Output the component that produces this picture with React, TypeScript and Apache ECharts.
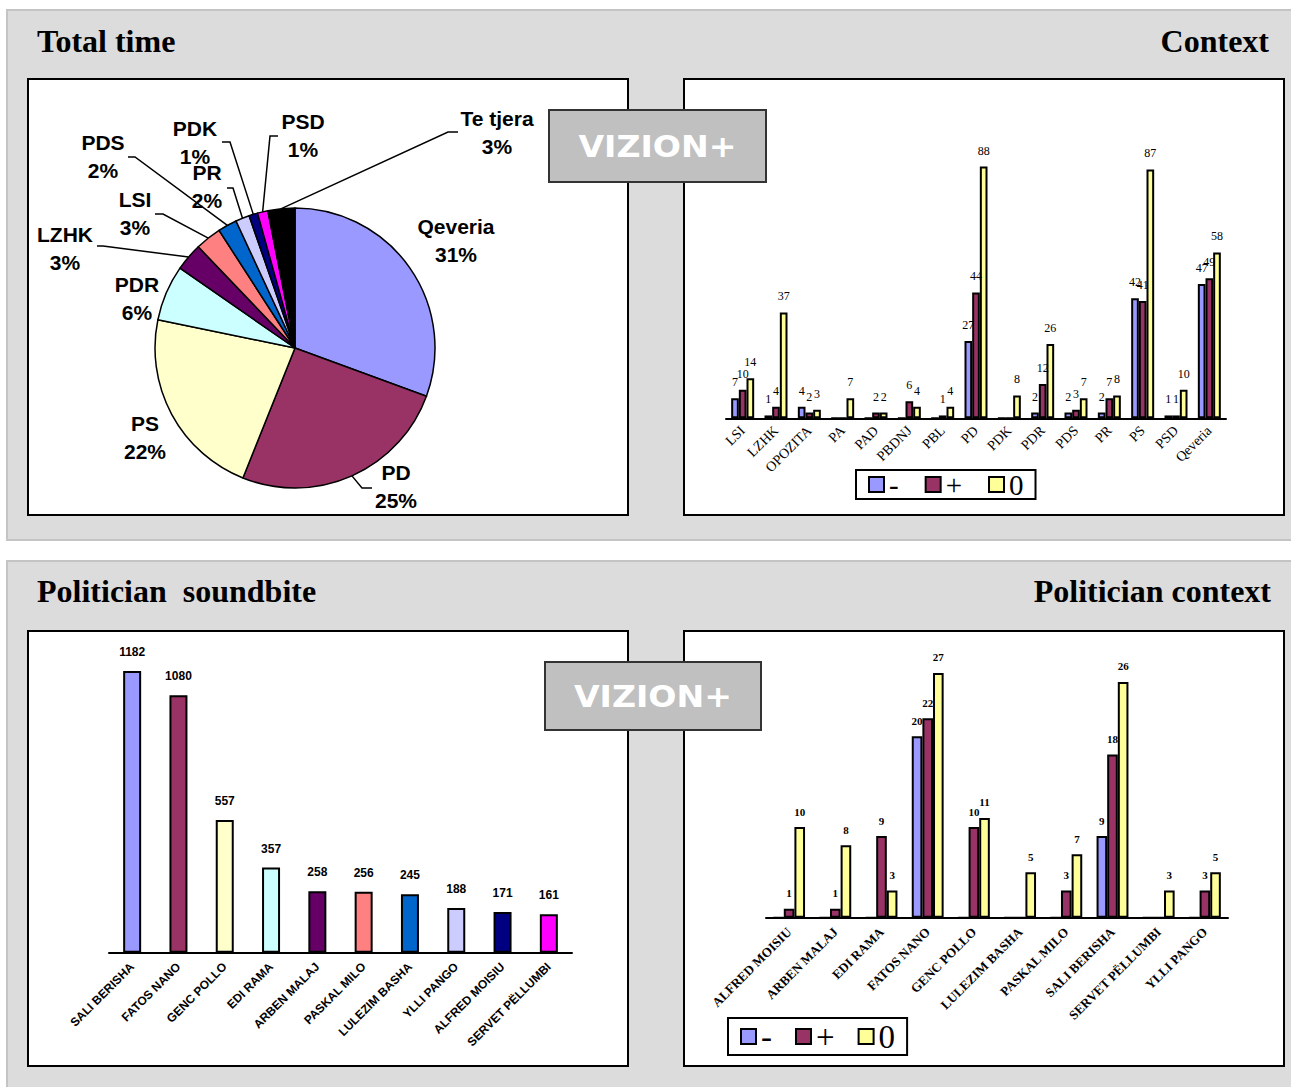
import React, { useEffect, useRef } from 'react';
import * as echarts from 'echarts';

// ---------- data ----------
const pieNames = ['Qeveria', 'PD', 'PS', 'PDR', 'LZHK', 'LSI', 'PDS', 'PR', 'PDK', 'PSD', 'Te tjera'];
const pieValues = [30.5, 25.4, 22.1, 6.4, 3.2, 3.0, 2.2, 1.6, 1.0, 1.2, 3.1];
const pieColors = ['#9999FF', '#993366', '#FFFFCC', '#CCFFFF', '#660066', '#FF8080', '#0066CC', '#CCCCFF', '#000080', '#FF00FF', '#000000'];

const contextCats = ['LSI', 'LZHK', 'OPOZITA', 'PA', 'PAD', 'PBDNJ', 'PBL', 'PD', 'PDK', 'PDR', 'PDS', 'PR', 'PS', 'PSD', 'Qeveria'];
const contextNeg = [7, 1, 4, 0, 0, 0, 0, 27, 0, 2, 2, 2, 42, 1, 47];
const contextPos = [10, 4, 2, 0, 2, 6, 1, 44, 0, 12, 3, 7, 41, 1, 49];
const contextZero = [14, 37, 3, 7, 2, 4, 4, 88, 8, 26, 7, 8, 87, 10, 58];

const soundCats = ['SALI BERISHA', 'FATOS NANO', 'GENC POLLO', 'EDI RAMA', 'ARBEN MALAJ', 'PASKAL MILO', 'LULEZIM BASHA', 'YLLI PANGO', 'ALFRED MOISIU', 'SERVET PËLLUMBI'];
const soundValues = [1182, 1080, 557, 357, 258, 256, 245, 188, 171, 161];
const soundColors = ['#9999FF', '#993366', '#FFFFCC', '#CCFFFF', '#660066', '#FF8080', '#0066CC', '#CCCCFF', '#000080', '#FF00FF'];

const polCats = ['ALFRED MOISIU', 'ARBEN MALAJ', 'EDI RAMA', 'FATOS NANO', 'GENC POLLO', 'LULEZIM BASHA', 'PASKAL MILO', 'SALI BERISHA', 'SERVET PËLLUMBI', 'YLLI PANGO'];
const polNeg = [0, 0, 0, 20, 0, 0, 0, 9, 0, 0];
const polPos = [1, 1, 9, 22, 10, 0, 3, 18, 0, 3];
const polZero = [10, 8, 3, 27, 11, 5, 7, 26, 3, 5];

const legendNames = ['-', '+', '0'];
const seriesColors = ['#9999FF', '#993366', '#FFFF99'];

// ---------- layout ----------
const pieCenter = [295, 348];
const pieRadius = 140;
const pieLabelAt = [[456, 240], [396, 486], [145, 437], [137, 298], [65, 248], [135, 213], [103, 156], [207, 186], [195, 142], [303, 135], [497, 132]];
const pieLeader: (number[][] | null)[] = [
  null,
  [[362, 488], [372, 488]],
  null,
  null,
  [[103, 246], [97, 246]],
  [[163, 214], [155, 214]],
  [[135, 157], [128, 157]],
  [[233, 188], [227, 188]],
  [[230, 142], [222, 142]],
  [[270, 136], [278, 136]],
  [[448, 132], [458, 132]],
];

const SERIF = '"Liberation Serif", "Times New Roman", serif';
const SANS = '"Liberation Sans", Arial, sans-serif';

const pieTotal = pieValues.reduce((a, b) => a + b, 0);
function pieEdge(i: number) {
  let cum = 0;
  for (let k = 0; k < i; k++) cum += pieValues[k];
  const mid = ((cum + pieValues[i] / 2) / pieTotal) * 2 * Math.PI;
  return [pieCenter[0] + pieRadius * Math.sin(mid), pieCenter[1] - pieRadius * Math.cos(mid)];
}

function barSeries(name: string, data: number[], color: string, axis: number, bold: boolean, fontSize: number, dist: number) {
  return {
    type: 'bar',
    name,
    xAxisIndex: axis,
    yAxisIndex: axis,
    data,
    barGap: '0%',
    barCategoryGap: '31%',
    itemStyle: { color, borderColor: '#000', borderWidth: 2 },
    label: {
      show: true,
      position: 'top',
      distance: dist,
      formatter: (p: any) => (p.value ? String(p.value) : ''),
      fontFamily: SERIF,
      fontSize,
      fontWeight: bold ? 'bold' : 'normal',
      color: '#000',
      textBorderWidth: 0,
    },
  };
}

function panel(y: number) {
  return {
    type: 'rect',
    z: -10,
    shape: { x: 7, y, width: 1292, height: 530 },
    style: { fill: '#DCDCDC', stroke: '#C4C4C4', lineWidth: 2 },
  };
}
function box(x: number, y: number, w: number, h: number) {
  return {
    type: 'rect',
    z: -5,
    shape: { x, y, width: w, height: h },
    style: { fill: '#FFFFFF', stroke: '#000', lineWidth: 2 },
  };
}
function title(text: string, x: number, y: number, align: string) {
  return {
    type: 'text',
    z: 1,
    style: { text, x, y, align, verticalAlign: 'middle', fill: '#000', font: `bold 32px ${SERIF}` },
  };
}
function vizion(x: number, y: number, w: number, h: number) {
  return {
    type: 'group',
    z: 100,
    children: [
      { type: 'rect', z: 100, shape: { x, y, width: w, height: h }, style: { fill: '#C0C0C0', stroke: '#333', lineWidth: 2 } },
      {
        type: 'text',
        z: 101,
        x: x + w / 2,
        y: y + h / 2,
        scaleX: 1.07,
        style: { text: 'VIZION+', x: 0, y: 0, align: 'center', verticalAlign: 'middle', fill: '#FFFFFF', font: 'bold 31px "DejaVu Sans", Verdana, sans-serif' },
      },
    ],
  };
}

function legend(left: number, top: number, fontSize: number, gap: number, pad: number[]) {
  return {
    data: legendNames,
    left,
    top,
    orient: 'horizontal',
    itemWidth: 15,
    itemHeight: 15,
    itemGap: gap,
    padding: pad,
    selectedMode: false,
    backgroundColor: '#FFFFFF',
    borderColor: '#000',
    borderWidth: 2,
    icon: 'rect',
    itemStyle: { borderColor: '#000', borderWidth: 2 },
    textStyle: { fontFamily: SERIF, fontSize, color: '#000' },
  };
}

export default function App() {
  const ref = useRef<HTMLDivElement>(null);
  useEffect(() => {
    document.body.style.margin = '0';
    const chart = echarts.init(ref.current!, undefined, { renderer: 'svg' });
    const axisLineStyle = { color: '#000', width: 2 };
    const option: any = {
      animation: false,
      backgroundColor: '#FFFFFF',
      grid: [
        { left: 726, top: 132.3, width: 500, height: 286 },
        { left: 109, top: 666.7, width: 463, height: 286 },
        { left: 766, top: 645.7, width: 462, height: 272 },
      ],
      xAxis: [
        {
          gridIndex: 0, type: 'category', data: contextCats,
          axisLine: { lineStyle: axisLineStyle }, axisTick: { length: 5, lineStyle: axisLineStyle },
          axisLabel: { rotate: 45, interval: 0, margin: 10, fontFamily: SERIF, fontSize: 14, color: '#000' },
        },
        {
          gridIndex: 1, type: 'category', data: soundCats,
          axisLine: { lineStyle: axisLineStyle }, axisTick: { length: 5, lineStyle: axisLineStyle },
          axisLabel: { rotate: 45, interval: 0, margin: 12, fontFamily: SANS, fontWeight: 'bold', fontSize: 12, color: '#000' },
        },
        {
          gridIndex: 2, type: 'category', data: polCats,
          axisLine: { lineStyle: axisLineStyle }, axisTick: { length: 5, lineStyle: axisLineStyle },
          axisLabel: { rotate: 45, interval: 0, margin: 12, fontFamily: SERIF, fontWeight: 'bold', fontSize: 13, color: '#000' },
        },
      ],
      yAxis: [
        { gridIndex: 0, type: 'value', min: 0, max: 100, show: false },
        { gridIndex: 1, type: 'value', min: 0, max: 1200, show: false },
        { gridIndex: 2, type: 'value', min: 0, max: 30, show: false },
      ],
      legend: [
        legend(856, 470, 29, 26, [0, 12, 0, 12]),
        legend(728, 1018, 33, 23, [2, 12, 2, 12]),
      ],
      graphic: [
        panel(10),
        panel(561),
        box(28, 79, 600, 436),
        box(684, 79, 600, 436),
        box(28, 631, 600, 435),
        box(684, 631, 600, 435),
        title('Total time', 37, 41, 'left'),
        title('Context', 1269, 41, 'right'),
        title('Politician  soundbite', 37, 591, 'left'),
        title('Politician context', 1271, 591, 'right'),
        vizion(549, 110, 217, 72),
        vizion(545, 662, 216, 68),
      ],
      series: [
        barSeries('-', contextNeg, seriesColors[0], 0, false, 12, 10),
        barSeries('+', contextPos, seriesColors[1], 0, false, 12, 10),
        barSeries('0', contextZero, seriesColors[2], 0, false, 12, 10),
        {
          type: 'bar',
          name: 'soundbite',
          xAxisIndex: 1,
          yAxisIndex: 1,
          barWidth: 18,
          data: soundValues.map((v, i) => ({ value: v, itemStyle: { color: soundColors[i] } })),
          itemStyle: { borderColor: '#000', borderWidth: 2 },
          label: { show: true, position: 'top', distance: 13, fontFamily: SANS, fontWeight: 'bold', fontSize: 12, color: '#000' },
        },
        barSeries('-', polNeg, seriesColors[0], 2, true, 11, 10),
        barSeries('+', polPos, seriesColors[1], 2, true, 11, 10),
        barSeries('0', polZero, seriesColors[2], 2, true, 11, 10),
        {
          type: 'pie',
          name: 'Total time',
          center: pieCenter,
          radius: pieRadius,
          startAngle: 90,
          clockwise: true,
          avoidLabelOverlap: false,
          itemStyle: { borderColor: '#000', borderWidth: 1.5 },
          data: pieNames.map((n, i) => ({
            name: n,
            value: pieValues[i],
            itemStyle: { color: pieColors[i] },
            labelLine: { show: !!pieLeader[i] },
          })),
          label: {
            show: true,
            position: 'outside',
            formatter: (p: any) => `${p.name}\n${Math.round((p.value / pieTotal) * 100)}%`,
            fontFamily: SANS,
            fontWeight: 'bold',
            fontSize: 21,
            lineHeight: 28,
            color: '#000',
          },
          labelLine: { show: true, length: 8, length2: 8, lineStyle: { color: '#000', width: 1.5 } },
          labelLayout: (p: any) => {
            const i = p.dataIndex;
            const res: any = { x: pieLabelAt[i][0], y: pieLabelAt[i][1], align: 'center', verticalAlign: 'middle' };
            const lead = pieLeader[i];
            if (lead) res.labelLinePoints = [pieEdge(i), lead[0], lead[1]];
            return res;
          },
        },
      ],
    };
    chart.setOption(option);
    return () => chart.dispose();
  }, []);
  return <div ref={ref} style={{ width: 1291, height: 1087 }} />;
}
